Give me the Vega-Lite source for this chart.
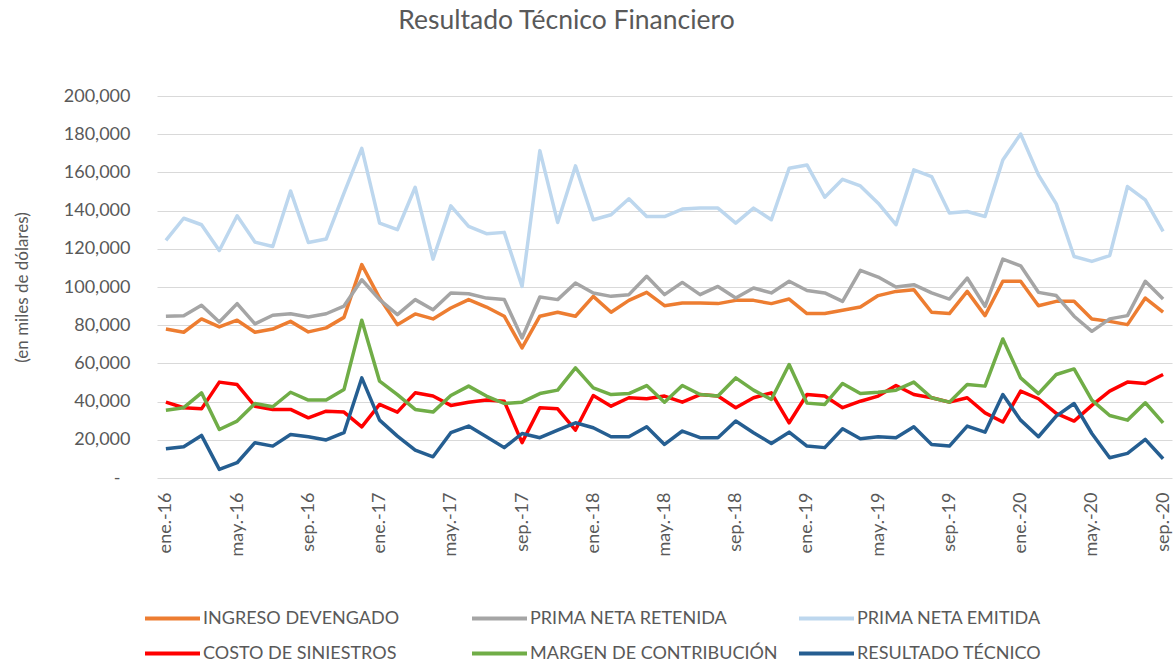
{
  "$schema": "https://vega.github.io/schema/vega-lite/v6.json",
  "autosize": {"type": "none"},
  "padding": {"left": 157, "top": 96, "right": 2, "bottom": 188},
  "width": 1015,
  "height": 382,
  "background": "white",
  "config": {"view": {"stroke": null}, "font": "Lato"},
  "title": {
    "text": "Resultado Técnico Financiero",
    "font": "Lato",
    "fontSize": 26.5,
    "fontWeight": "normal",
    "color": "#595959",
    "anchor": "middle",
    "dx": -98,
    "offset": 53
  },
  "data": {
    "values": [
      {"mes": "ene.-16", "INGRESO DEVENGADO": 78000, "PRIMA NETA RETENIDA": 84700, "PRIMA NETA EMITIDA": 124400, "COSTO DE SINIESTROS": 39700, "MARGEN DE CONTRIBUCIÓN": 35500, "RESULTADO TÉCNICO": 15300},
      {"mes": "feb.-16", "INGRESO DEVENGADO": 76300, "PRIMA NETA RETENIDA": 85000, "PRIMA NETA EMITIDA": 136000, "COSTO DE SINIESTROS": 36800, "MARGEN DE CONTRIBUCIÓN": 36800, "RESULTADO TÉCNICO": 16400},
      {"mes": "mar.-16", "INGRESO DEVENGADO": 83300, "PRIMA NETA RETENIDA": 90400, "PRIMA NETA EMITIDA": 132600, "COSTO DE SINIESTROS": 36200, "MARGEN DE CONTRIBUCIÓN": 44600, "RESULTADO TÉCNICO": 22300},
      {"mes": "abr.-16", "INGRESO DEVENGADO": 79100, "PRIMA NETA RETENIDA": 81700, "PRIMA NETA EMITIDA": 119100, "COSTO DE SINIESTROS": 50200, "MARGEN DE CONTRIBUCIÓN": 25400, "RESULTADO TÉCNICO": 4500},
      {"mes": "may.-16", "INGRESO DEVENGADO": 82600, "PRIMA NETA RETENIDA": 91300, "PRIMA NETA EMITIDA": 137300, "COSTO DE SINIESTROS": 48900, "MARGEN DE CONTRIBUCIÓN": 29800, "RESULTADO TÉCNICO": 8000},
      {"mes": "jun.-16", "INGRESO DEVENGADO": 76300, "PRIMA NETA RETENIDA": 80700, "PRIMA NETA EMITIDA": 123500, "COSTO DE SINIESTROS": 37600, "MARGEN DE CONTRIBUCIÓN": 39000, "RESULTADO TÉCNICO": 18500},
      {"mes": "jul.-16", "INGRESO DEVENGADO": 78000, "PRIMA NETA RETENIDA": 85200, "PRIMA NETA EMITIDA": 121200, "COSTO DE SINIESTROS": 35900, "MARGEN DE CONTRIBUCIÓN": 37300, "RESULTADO TÉCNICO": 16700},
      {"mes": "ago.-16", "INGRESO DEVENGADO": 82000, "PRIMA NETA RETENIDA": 86000, "PRIMA NETA EMITIDA": 150300, "COSTO DE SINIESTROS": 35900, "MARGEN DE CONTRIBUCIÓN": 44900, "RESULTADO TÉCNICO": 22800},
      {"mes": "sep.-16", "INGRESO DEVENGADO": 76500, "PRIMA NETA RETENIDA": 84300, "PRIMA NETA EMITIDA": 123300, "COSTO DE SINIESTROS": 31500, "MARGEN DE CONTRIBUCIÓN": 40800, "RESULTADO TÉCNICO": 21600},
      {"mes": "oct.-16", "INGRESO DEVENGADO": 78600, "PRIMA NETA RETENIDA": 86000, "PRIMA NETA EMITIDA": 125100, "COSTO DE SINIESTROS": 35000, "MARGEN DE CONTRIBUCIÓN": 40800, "RESULTADO TÉCNICO": 19900},
      {"mes": "nov.-16", "INGRESO DEVENGADO": 84100, "PRIMA NETA RETENIDA": 90000, "PRIMA NETA EMITIDA": 149100, "COSTO DE SINIESTROS": 34500, "MARGEN DE CONTRIBUCIÓN": 46300, "RESULTADO TÉCNICO": 23700},
      {"mes": "dic.-16", "INGRESO DEVENGADO": 111700, "PRIMA NETA RETENIDA": 103800, "PRIMA NETA EMITIDA": 172600, "COSTO DE SINIESTROS": 26800, "MARGEN DE CONTRIBUCIÓN": 82600, "RESULTADO TÉCNICO": 52400},
      {"mes": "ene.-17", "INGRESO DEVENGADO": 94200, "PRIMA NETA RETENIDA": 93400, "PRIMA NETA EMITIDA": 133400, "COSTO DE SINIESTROS": 38500, "MARGEN DE CONTRIBUCIÓN": 50700, "RESULTADO TÉCNICO": 30300},
      {"mes": "feb.-17", "INGRESO DEVENGADO": 80300, "PRIMA NETA RETENIDA": 85500, "PRIMA NETA EMITIDA": 130000, "COSTO DE SINIESTROS": 34500, "MARGEN DE CONTRIBUCIÓN": 43700, "RESULTADO TÉCNICO": 21900},
      {"mes": "mar.-17", "INGRESO DEVENGADO": 85900, "PRIMA NETA RETENIDA": 93400, "PRIMA NETA EMITIDA": 152200, "COSTO DE SINIESTROS": 44600, "MARGEN DE CONTRIBUCIÓN": 35900, "RESULTADO TÉCNICO": 14600},
      {"mes": "abr.-17", "INGRESO DEVENGADO": 83300, "PRIMA NETA RETENIDA": 88100, "PRIMA NETA EMITIDA": 114600, "COSTO DE SINIESTROS": 42900, "MARGEN DE CONTRIBUCIÓN": 34500, "RESULTADO TÉCNICO": 11100},
      {"mes": "may.-17", "INGRESO DEVENGADO": 89000, "PRIMA NETA RETENIDA": 96900, "PRIMA NETA EMITIDA": 142500, "COSTO DE SINIESTROS": 38000, "MARGEN DE CONTRIBUCIÓN": 43200, "RESULTADO TÉCNICO": 23700},
      {"mes": "jun.-17", "INGRESO DEVENGADO": 93400, "PRIMA NETA RETENIDA": 96500, "PRIMA NETA EMITIDA": 131700, "COSTO DE SINIESTROS": 39700, "MARGEN DE CONTRIBUCIÓN": 48100, "RESULTADO TÉCNICO": 27200},
      {"mes": "jul.-17", "INGRESO DEVENGADO": 89500, "PRIMA NETA RETENIDA": 94200, "PRIMA NETA EMITIDA": 127900, "COSTO DE SINIESTROS": 40800, "MARGEN DE CONTRIBUCIÓN": 42900, "RESULTADO TÉCNICO": 21600},
      {"mes": "ago.-17", "INGRESO DEVENGADO": 84700, "PRIMA NETA RETENIDA": 93400, "PRIMA NETA EMITIDA": 128600, "COSTO DE SINIESTROS": 40200, "MARGEN DE CONTRIBUCIÓN": 39000, "RESULTADO TÉCNICO": 15900},
      {"mes": "sep.-17", "INGRESO DEVENGADO": 68100, "PRIMA NETA RETENIDA": 73300, "PRIMA NETA EMITIDA": 100300, "COSTO DE SINIESTROS": 18500, "MARGEN DE CONTRIBUCIÓN": 39700, "RESULTADO TÉCNICO": 23300},
      {"mes": "oct.-17", "INGRESO DEVENGADO": 84700, "PRIMA NETA RETENIDA": 94800, "PRIMA NETA EMITIDA": 171400, "COSTO DE SINIESTROS": 36800, "MARGEN DE CONTRIBUCIÓN": 44200, "RESULTADO TÉCNICO": 21100},
      {"mes": "nov.-17", "INGRESO DEVENGADO": 86800, "PRIMA NETA RETENIDA": 93400, "PRIMA NETA EMITIDA": 133800, "COSTO DE SINIESTROS": 36200, "MARGEN DE CONTRIBUCIÓN": 46000, "RESULTADO TÉCNICO": 25100},
      {"mes": "dic.-17", "INGRESO DEVENGADO": 84700, "PRIMA NETA RETENIDA": 102100, "PRIMA NETA EMITIDA": 163400, "COSTO DE SINIESTROS": 25100, "MARGEN DE CONTRIBUCIÓN": 57700, "RESULTADO TÉCNICO": 28900},
      {"mes": "ene.-18", "INGRESO DEVENGADO": 95100, "PRIMA NETA RETENIDA": 96900, "PRIMA NETA EMITIDA": 135200, "COSTO DE SINIESTROS": 43200, "MARGEN DE CONTRIBUCIÓN": 47200, "RESULTADO TÉCNICO": 26300},
      {"mes": "feb.-18", "INGRESO DEVENGADO": 86800, "PRIMA NETA RETENIDA": 95100, "PRIMA NETA EMITIDA": 137800, "COSTO DE SINIESTROS": 37600, "MARGEN DE CONTRIBUCIÓN": 43700, "RESULTADO TÉCNICO": 21600},
      {"mes": "mar.-18", "INGRESO DEVENGADO": 93000, "PRIMA NETA RETENIDA": 96000, "PRIMA NETA EMITIDA": 146200, "COSTO DE SINIESTROS": 42000, "MARGEN DE CONTRIBUCIÓN": 44200, "RESULTADO TÉCNICO": 21600},
      {"mes": "abr.-18", "INGRESO DEVENGADO": 97200, "PRIMA NETA RETENIDA": 105600, "PRIMA NETA EMITIDA": 136900, "COSTO DE SINIESTROS": 41500, "MARGEN DE CONTRIBUCIÓN": 48400, "RESULTADO TÉCNICO": 26800},
      {"mes": "may.-18", "INGRESO DEVENGADO": 90200, "PRIMA NETA RETENIDA": 96000, "PRIMA NETA EMITIDA": 136900, "COSTO DE SINIESTROS": 42900, "MARGEN DE CONTRIBUCIÓN": 39700, "RESULTADO TÉCNICO": 17600},
      {"mes": "jun.-18", "INGRESO DEVENGADO": 91600, "PRIMA NETA RETENIDA": 102400, "PRIMA NETA EMITIDA": 140800, "COSTO DE SINIESTROS": 39700, "MARGEN DE CONTRIBUCIÓN": 48400, "RESULTADO TÉCNICO": 24600},
      {"mes": "jul.-18", "INGRESO DEVENGADO": 91600, "PRIMA NETA RETENIDA": 96000, "PRIMA NETA EMITIDA": 141300, "COSTO DE SINIESTROS": 43700, "MARGEN DE CONTRIBUCIÓN": 43700, "RESULTADO TÉCNICO": 21100},
      {"mes": "ago.-18", "INGRESO DEVENGADO": 91300, "PRIMA NETA RETENIDA": 100300, "PRIMA NETA EMITIDA": 141300, "COSTO DE SINIESTROS": 42900, "MARGEN DE CONTRIBUCIÓN": 42900, "RESULTADO TÉCNICO": 21100},
      {"mes": "sep.-18", "INGRESO DEVENGADO": 93000, "PRIMA NETA RETENIDA": 94200, "PRIMA NETA EMITIDA": 133400, "COSTO DE SINIESTROS": 36800, "MARGEN DE CONTRIBUCIÓN": 52400, "RESULTADO TÉCNICO": 29800},
      {"mes": "oct.-18", "INGRESO DEVENGADO": 93000, "PRIMA NETA RETENIDA": 99500, "PRIMA NETA EMITIDA": 141300, "COSTO DE SINIESTROS": 42000, "MARGEN DE CONTRIBUCIÓN": 46000, "RESULTADO TÉCNICO": 23700},
      {"mes": "nov.-18", "INGRESO DEVENGADO": 91300, "PRIMA NETA RETENIDA": 96900, "PRIMA NETA EMITIDA": 135200, "COSTO DE SINIESTROS": 44600, "MARGEN DE CONTRIBUCIÓN": 41100, "RESULTADO TÉCNICO": 18100},
      {"mes": "dic.-18", "INGRESO DEVENGADO": 93700, "PRIMA NETA RETENIDA": 103000, "PRIMA NETA EMITIDA": 162200, "COSTO DE SINIESTROS": 28900, "MARGEN DE CONTRIBUCIÓN": 59400, "RESULTADO TÉCNICO": 24000},
      {"mes": "ene.-19", "INGRESO DEVENGADO": 86100, "PRIMA NETA RETENIDA": 98200, "PRIMA NETA EMITIDA": 163900, "COSTO DE SINIESTROS": 43700, "MARGEN DE CONTRIBUCIÓN": 39200, "RESULTADO TÉCNICO": 16700},
      {"mes": "feb.-19", "INGRESO DEVENGADO": 86100, "PRIMA NETA RETENIDA": 96900, "PRIMA NETA EMITIDA": 147000, "COSTO DE SINIESTROS": 42900, "MARGEN DE CONTRIBUCIÓN": 38500, "RESULTADO TÉCNICO": 15900},
      {"mes": "mar.-19", "INGRESO DEVENGADO": 87800, "PRIMA NETA RETENIDA": 92500, "PRIMA NETA EMITIDA": 156400, "COSTO DE SINIESTROS": 36800, "MARGEN DE CONTRIBUCIÓN": 49500, "RESULTADO TÉCNICO": 25800},
      {"mes": "abr.-19", "INGRESO DEVENGADO": 89500, "PRIMA NETA RETENIDA": 108700, "PRIMA NETA EMITIDA": 152900, "COSTO DE SINIESTROS": 40200, "MARGEN DE CONTRIBUCIÓN": 44200, "RESULTADO TÉCNICO": 20600},
      {"mes": "may.-19", "INGRESO DEVENGADO": 95500, "PRIMA NETA RETENIDA": 105200, "PRIMA NETA EMITIDA": 143900, "COSTO DE SINIESTROS": 42900, "MARGEN DE CONTRIBUCIÓN": 44900, "RESULTADO TÉCNICO": 21600},
      {"mes": "jun.-19", "INGRESO DEVENGADO": 97700, "PRIMA NETA RETENIDA": 100000, "PRIMA NETA EMITIDA": 132600, "COSTO DE SINIESTROS": 48400, "MARGEN DE CONTRIBUCIÓN": 46000, "RESULTADO TÉCNICO": 21100},
      {"mes": "jul.-19", "INGRESO DEVENGADO": 98600, "PRIMA NETA RETENIDA": 101200, "PRIMA NETA EMITIDA": 161300, "COSTO DE SINIESTROS": 43700, "MARGEN DE CONTRIBUCIÓN": 50200, "RESULTADO TÉCNICO": 26800},
      {"mes": "ago.-19", "INGRESO DEVENGADO": 86800, "PRIMA NETA RETENIDA": 96900, "PRIMA NETA EMITIDA": 157800, "COSTO DE SINIESTROS": 42000, "MARGEN DE CONTRIBUCIÓN": 42000, "RESULTADO TÉCNICO": 17600},
      {"mes": "sep.-19", "INGRESO DEVENGADO": 86100, "PRIMA NETA RETENIDA": 93700, "PRIMA NETA EMITIDA": 138700, "COSTO DE SINIESTROS": 39700, "MARGEN DE CONTRIBUCIÓN": 39700, "RESULTADO TÉCNICO": 16700},
      {"mes": "oct.-19", "INGRESO DEVENGADO": 97700, "PRIMA NETA RETENIDA": 104700, "PRIMA NETA EMITIDA": 139500, "COSTO DE SINIESTROS": 42000, "MARGEN DE CONTRIBUCIÓN": 48900, "RESULTADO TÉCNICO": 27200},
      {"mes": "nov.-19", "INGRESO DEVENGADO": 85000, "PRIMA NETA RETENIDA": 89900, "PRIMA NETA EMITIDA": 136900, "COSTO DE SINIESTROS": 34100, "MARGEN DE CONTRIBUCIÓN": 48100, "RESULTADO TÉCNICO": 24000},
      {"mes": "dic.-19", "INGRESO DEVENGADO": 103000, "PRIMA NETA RETENIDA": 114600, "PRIMA NETA EMITIDA": 166500, "COSTO DE SINIESTROS": 29300, "MARGEN DE CONTRIBUCIÓN": 72800, "RESULTADO TÉCNICO": 43700},
      {"mes": "ene.-20", "INGRESO DEVENGADO": 103000, "PRIMA NETA RETENIDA": 111100, "PRIMA NETA EMITIDA": 180100, "COSTO DE SINIESTROS": 45500, "MARGEN DE CONTRIBUCIÓN": 52400, "RESULTADO TÉCNICO": 30300},
      {"mes": "feb.-20", "INGRESO DEVENGADO": 90200, "PRIMA NETA RETENIDA": 97200, "PRIMA NETA EMITIDA": 158700, "COSTO DE SINIESTROS": 41500, "MARGEN DE CONTRIBUCIÓN": 44200, "RESULTADO TÉCNICO": 21600},
      {"mes": "mar.-20", "INGRESO DEVENGADO": 92500, "PRIMA NETA RETENIDA": 95500, "PRIMA NETA EMITIDA": 143500, "COSTO DE SINIESTROS": 33800, "MARGEN DE CONTRIBUCIÓN": 54200, "RESULTADO TÉCNICO": 32400},
      {"mes": "abr.-20", "INGRESO DEVENGADO": 92500, "PRIMA NETA RETENIDA": 84700, "PRIMA NETA EMITIDA": 116000, "COSTO DE SINIESTROS": 29800, "MARGEN DE CONTRIBUCIÓN": 57100, "RESULTADO TÉCNICO": 39000},
      {"mes": "may.-20", "INGRESO DEVENGADO": 83300, "PRIMA NETA RETENIDA": 76800, "PRIMA NETA EMITIDA": 113400, "COSTO DE SINIESTROS": 38000, "MARGEN DE CONTRIBUCIÓN": 40800, "RESULTADO TÉCNICO": 23300},
      {"mes": "jun.-20", "INGRESO DEVENGADO": 82000, "PRIMA NETA RETENIDA": 83300, "PRIMA NETA EMITIDA": 116400, "COSTO DE SINIESTROS": 45500, "MARGEN DE CONTRIBUCIÓN": 32700, "RESULTADO TÉCNICO": 10600},
      {"mes": "jul.-20", "INGRESO DEVENGADO": 80300, "PRIMA NETA RETENIDA": 85000, "PRIMA NETA EMITIDA": 152600, "COSTO DE SINIESTROS": 50200, "MARGEN DE CONTRIBUCIÓN": 30300, "RESULTADO TÉCNICO": 12900},
      {"mes": "ago.-20", "INGRESO DEVENGADO": 94200, "PRIMA NETA RETENIDA": 103000, "PRIMA NETA EMITIDA": 145600, "COSTO DE SINIESTROS": 49500, "MARGEN DE CONTRIBUCIÓN": 39400, "RESULTADO TÉCNICO": 20200},
      {"mes": "sep.-20", "INGRESO DEVENGADO": 86800, "PRIMA NETA RETENIDA": 93700, "PRIMA NETA EMITIDA": 129100, "COSTO DE SINIESTROS": 54200, "MARGEN DE CONTRIBUCIÓN": 28900, "RESULTADO TÉCNICO": 10100}
    ]
  },
  "transform": [
    {"fold": ["INGRESO DEVENGADO", "PRIMA NETA RETENIDA", "PRIMA NETA EMITIDA", "COSTO DE SINIESTROS", "MARGEN DE CONTRIBUCIÓN", "RESULTADO TÉCNICO"], "as": ["serie", "valor"]}
  ],
  "mark": {"type": "line", "strokeWidth": 3.5, "strokeJoin": "round"},
  "encoding": {
    "x": {
      "field": "mes",
      "type": "ordinal",
      "sort": null,
      "scale": {"type": "point", "padding": 0.5},
      "axis": {
        "title": null,
        "values": ["ene.-16", "may.-16", "sep.-16", "ene.-17", "may.-17", "sep.-17", "ene.-18", "may.-18", "sep.-18", "ene.-19", "may.-19", "sep.-19", "ene.-20", "may.-20", "sep.-20"],
        "labelAngle": -90,
        "labelAlign": "right",
        "labelBaseline": "middle",
        "labelFont": "Lato",
        "labelFontSize": 18,
        "labelColor": "#595959",
        "labelPadding": 14,
        "ticks": false,
        "domain": false,
        "grid": false
      }
    },
    "y": {
      "field": "valor",
      "type": "quantitative",
      "scale": {"domain": [0, 200000], "nice": false, "zero": true},
      "axis": {
        "values": [0, 20000, 40000, 60000, 80000, 100000, 120000, 140000, 160000, 180000, 200000],
        "labelExpr": "datum.value === 0 ? '-' : format(datum.value, ',')",
        "labelFont": "Lato",
        "labelFontSize": 18,
        "labelColor": "#595959",
        "labelPadding": {"condition": {"test": "datum.value === 0", "value": 37}, "value": 27},
        "ticks": false,
        "domain": false,
        "grid": true,
        "gridColor": "#d9d9d9",
        "gridWidth": 1,
        "title": "(en miles de dólares)",
        "titleFont": "Lato",
        "titleFontSize": 17,
        "titleFontWeight": "normal",
        "titleColor": "#595959",
        "titleAngle": -90,
        "titleX": -135,
        "titleY": 191,
        "titleAlign": "center",
        "titleBaseline": "middle"
      }
    },
    "color": {
      "field": "serie",
      "type": "nominal",
      "scale": {
        "domain": ["INGRESO DEVENGADO", "PRIMA NETA RETENIDA", "PRIMA NETA EMITIDA", "COSTO DE SINIESTROS", "MARGEN DE CONTRIBUCIÓN", "RESULTADO TÉCNICO"],
        "range": ["#ED7D31", "#A5A5A5", "#BDD7EE", "#FF0000", "#70AD47", "#255E91"]
      },
      "legend": {
        "title": null,
        "orient": "none",
        "legendX": -14,
        "legendY": 505,
        "direction": "horizontal",
        "columns": 3,
        "gridAlign": "all",
        "padding": 0,
        "symbolType": "stroke",
        "symbolSize": 3025,
        "symbolStrokeWidth": 4,
        "labelFont": "Lato",
        "labelFontSize": 18,
        "labelColor": "#595959",
        "labelOffset": 1,
        "labelLimit": 400,
        "columnPadding": 19,
        "rowPadding": 0,
        "clipHeight": 35
      }
    }
  }
}
